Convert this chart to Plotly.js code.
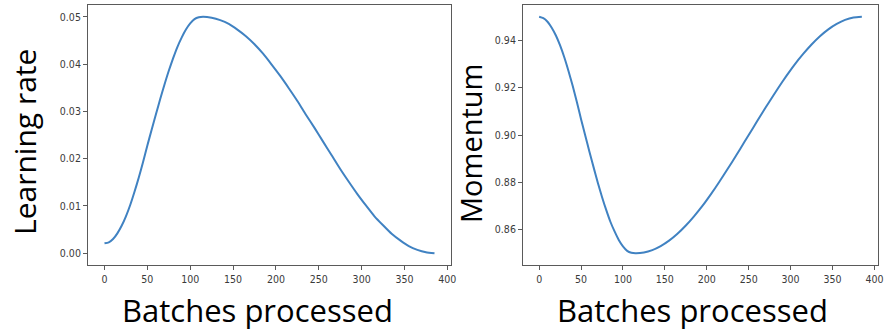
<!DOCTYPE html>
<html>
<head>
<meta charset="utf-8">
<script src="https://cdn.plot.ly/plotly-3.0.1.min.js"></script>
<style>html,body{margin:0;padding:0;background:#fff;}#chart{width:890px;height:331px;}</style>
</head>
<body>
<div id="chart"></div>
<script>
// Batches processed (x values)
const batches = [0, 5, 10, 15, 20, 25, 30, 35, 40, 45, 50, 55, 60, 65, 70, 75, 80, 85, 90, 95, 100, 105, 110, 115,
  125, 135, 145, 155, 165, 175, 185, 195, 205, 215, 225, 235, 245, 255, 265, 275, 285, 295, 305, 315, 325, 335, 345, 355, 365, 375, 385];
// Learning rate values
const learningRate = [0.0021, 0.0023, 0.0030, 0.0042, 0.0058, 0.0078, 0.0102, 0.0130, 0.0160, 0.0193, 0.0228, 0.0261, 0.0294, 0.0326, 0.0357, 0.0386, 0.0412, 0.0436, 0.0456, 0.0473, 0.0486, 0.0495, 0.0499, 0.0500,
  0.0498, 0.0493, 0.0485, 0.0473, 0.0459, 0.0442, 0.0422, 0.0399, 0.0375, 0.0349, 0.0322, 0.0293, 0.0265, 0.0236, 0.0207, 0.0178, 0.0151, 0.0125, 0.0101, 0.0078, 0.0059, 0.0041, 0.0027, 0.0015, 0.0007, 0.0002, 0.0000];
// Momentum values
const momentum = [0.9500, 0.9494, 0.9479, 0.9454, 0.9421, 0.9379, 0.9329, 0.9271, 0.9208, 0.9140, 0.9067, 0.8998, 0.8929, 0.8863, 0.8798, 0.8738, 0.8683, 0.8633, 0.8592, 0.8556, 0.8529, 0.8510, 0.8502, 0.8500,
  0.8503, 0.8513, 0.8530, 0.8553, 0.8582, 0.8617, 0.8657, 0.8701, 0.8750, 0.8802, 0.8857, 0.8913, 0.8971, 0.9029, 0.9087, 0.9143, 0.9198, 0.9250, 0.9299, 0.9343, 0.9383, 0.9418, 0.9447, 0.9470, 0.9487, 0.9497, 0.9500];
const xTicks = [0, 50, 100, 150, 200, 250, 300, 350, 400];
const lrTicks = [0.00, 0.01, 0.02, 0.03, 0.04, 0.05];
const momTicks = [0.86, 0.88, 0.90, 0.92, 0.94];

const lineStyle = {color: '#4082c2', width: 2, shape: 'spline', smoothing: 0.6};
const traces = [
  {x: batches, y: learningRate, type: 'scatter', mode: 'lines', line: lineStyle, xaxis: 'x', yaxis: 'y', hoverinfo: 'x+y'},
  {x: batches, y: momentum, type: 'scatter', mode: 'lines', line: lineStyle, xaxis: 'x2', yaxis: 'y2', hoverinfo: 'x+y'}
];

const axisCommon = {
  showline: true, mirror: true, linecolor: '#5a5a5a', linewidth: 1,
  showgrid: false, zeroline: false,
  ticks: 'outside', ticklen: 4, tickwidth: 1, tickcolor: '#5a5a5a',
  ticklabeloverflow: 'allow', automargin: false,
  tickfont: {family: 'DejaVu Sans Condensed, DejaVu Sans', size: 10.5, color: '#3a3a3a'}
};
const titleFont = {family: 'Open Sans', size: 31, color: '#000'};

const layout = {
  width: 890, height: 331,
  margin: {l: 0, r: 0, t: 5, b: 66},
  paper_bgcolor: '#fff', plot_bgcolor: '#fff',
  showlegend: false,
  xaxis: Object.assign({}, axisCommon, {domain: [88/890, 451/890], range: [-19.25, 404.25], tickvals: xTicks, anchor: 'y'}),
  yaxis: Object.assign({}, axisCommon, {domain: [0, 1], range: [-0.0025, 0.0525], tickvals: lrTicks, tickformat: '.2f', anchor: 'x'}),
  xaxis2: Object.assign({}, axisCommon, {domain: [523/890, 878/890], range: [-19.25, 404.25], tickvals: xTicks, anchor: 'y2'}),
  yaxis2: Object.assign({}, axisCommon, {domain: [0, 1], range: [0.845, 0.955], tickvals: momTicks, tickformat: '.2f', anchor: 'x2'}),
  annotations: [
    {text: 'Batches processed', xref: 'paper', yref: 'paper', x: 257/890, y: (265-310)/260, xanchor: 'center', yanchor: 'middle', showarrow: false, font: titleFont},
    {text: 'Batches processed', xref: 'paper', yref: 'paper', x: 692/890, y: (265-310)/260, xanchor: 'center', yanchor: 'middle', showarrow: false, font: titleFont},
    {text: 'Learning rate', xref: 'paper', yref: 'paper', x: 24/890, y: (265-142)/260, xanchor: 'center', yanchor: 'middle', textangle: -90, showarrow: false, font: Object.assign({}, titleFont, {size: 30})},
    {text: 'Momentum', xref: 'paper', yref: 'paper', x: 470/890, y: (265-143)/260, xanchor: 'center', yanchor: 'middle', textangle: -90, showarrow: false, font: Object.assign({}, titleFont, {size: 29})}
  ]
};

Plotly.newPlot('chart', traces, layout, {displayModeBar: false, staticPlot: true});
</script>
</body>
</html>
